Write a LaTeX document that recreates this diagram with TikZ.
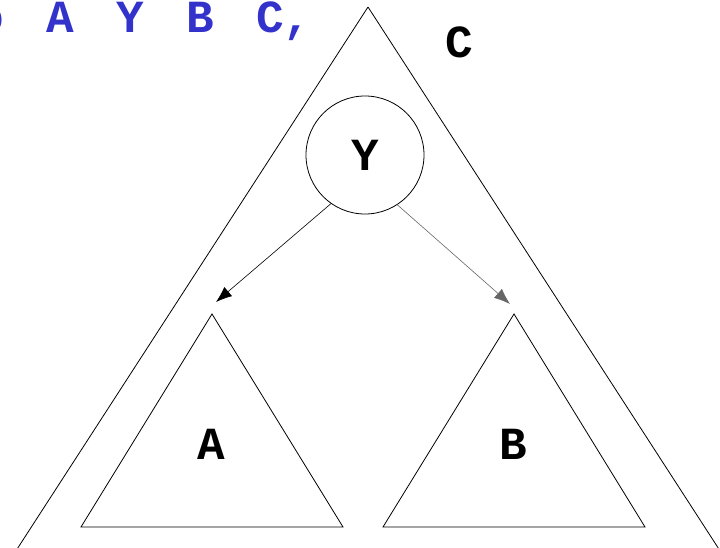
\documentclass[tikz,border=0pt]{standalone}
\usepackage{fontspec}
\usepackage{tikz}
\usetikzlibrary{arrows.meta, positioning}
\newfontfamily\keyfont{Liberation Mono}
\definecolor{seqblue}{RGB}{51,51,204}

\begin{document}
\begin{tikzpicture}[
    x=1pt, y=-1pt,
    every node/.style={font=\keyfont\bfseries\fontsize{46}{46}\selectfont, inner sep=0pt},
    tree/.style={line width=0.8pt, line join=miter},
    keynode/.style={circle, draw, line width=0.8pt, minimum size=118pt},
    arrow/.style={-{Latex[length=16pt, width=12pt]}, line width=0.6pt}
]
\useasboundingbox (0,0) rectangle (720,548);
\clip (0,0) rectangle (720,548);

% sequence heading, cut at the left border
\node[anchor=base west, text=seqblue] (seq) at (-24,33) {\fontdimen2\font=42.4pt o A Y B C,};

% outer tree C
\coordinate (topC) at (368,7);
\draw[tree] (topC) -- (10,560);
\draw[tree] (topC) -- (726,560);
\node (labC) at (459,42) {C};

% root key
\node[keynode] (Y) at (365,155) {Y};

% subtrees A and B
\coordinate (topA) at (212,314);
\coordinate (topB) at (514,314);
\draw[tree] (topA) -- (81,527) -- (343,527) -- cycle;
\draw[tree] (topB) -- (383,527) -- (645,527) -- cycle;
\node (labA) at (211,444) {A};
\node (labB) at (513,444) {B};

% links
\coordinate (tipA) at (216,302);
\coordinate (tipB) at (510,304);
\draw[arrow] (Y.235) -- (tipA);
\draw[arrow, black!60] (Y.303) -- (tipB);
\end{tikzpicture}
\end{document}
